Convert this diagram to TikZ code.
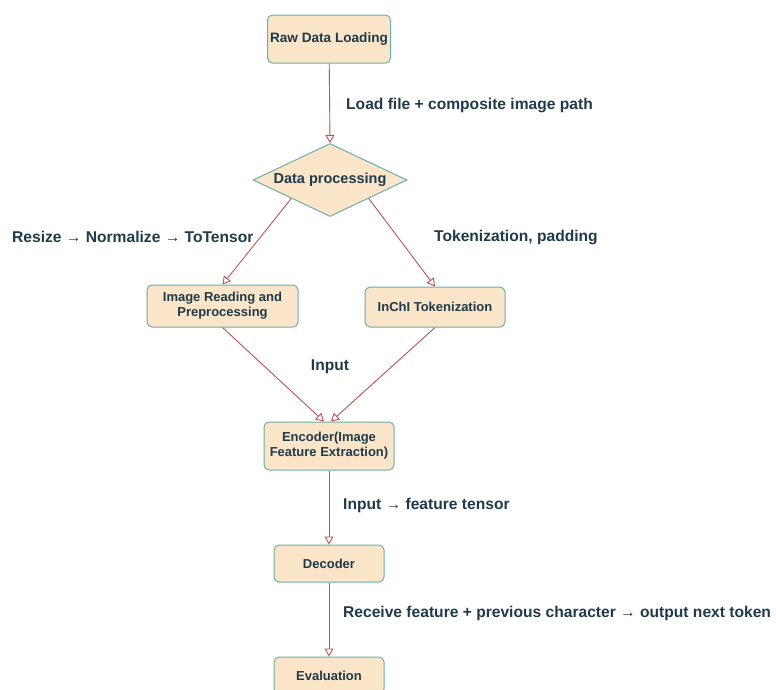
\documentclass[tikz,border=0pt]{standalone}
\usepackage{fontspec}
\setmainfont{Liberation Sans}
\usetikzlibrary{shapes.geometric,arrows.meta,calc}
\definecolor{boxfill}{HTML}{FAE5C8}
\definecolor{boxline}{HTML}{6AAFA8}
\definecolor{arr}{HTML}{B85450}
\definecolor{txt}{HTML}{1F3A4A}
\tikzset{
  box/.style={draw=boxline, fill=boxfill, line width=1pt, rounded corners=5pt, inner sep=0pt, align=center, text=txt, font=\bfseries\fontsize{13}{15}\selectfont},
  conn/.style={draw=arr, line width=0.9pt, -{Triangle[open,length=8pt,width=9pt]}},
  lbl/.style={text=txt, font=\bfseries\fontsize{15.6}{18}\selectfont, anchor=west, inner sep=0pt}
}
\begin{document}
\begin{tikzpicture}[x=1pt,y=1pt]
\useasboundingbox (0,0) rectangle (776,-689);
\node[box, minimum width=123pt, minimum height=48pt, font=\bfseries\fontsize{13.6}{16}\selectfont] (raw) at (329,-39) {Raw Data Loading};
\node[diamond, shape aspect=2.1, draw=boxline, fill=boxfill, line width=1pt, minimum width=154pt, minimum height=73pt, inner sep=0pt, text=txt, font=\bfseries\fontsize{14.5}{17}\selectfont] (dp) at (330,-180) {Data processing};
\node[box, minimum width=151pt, minimum height=42pt] (img) at (222.5,-306) {Image Reading and\\Preprocessing};
\node[box, minimum width=140pt, minimum height=40pt] (inchi) at (435,-307) {InChI Tokenization};
\node[box, minimum width=130pt, minimum height=48pt] (enc) at (329,-446) {Encoder(Image\\Feature Extraction)};
\node[box, minimum width=110pt, minimum height=37pt] (dec) at (329,-563.5) {Decoder};
\node[box, minimum width=110pt, minimum height=37pt] (ev) at (329,-675.5) {Evaluation};

\coordinate (dl) at ($(dp.west)!0.5!(dp.south)$);
\coordinate (dr) at ($(dp.east)!0.5!(dp.south)$);

\draw[conn] (raw) -- (dp.north);
\draw[conn] (dl) -- (img.north);
\draw[conn] (dr) -- (inchi.north);
\draw[conn] (img.south) -- ([xshift=-5pt]enc.north);
\draw[conn] (inchi.south) -- ([xshift=2pt]enc.north);
\draw[conn] (enc) -- (dec);
\draw[conn] (dec) -- (ev);

\node[lbl] (l1) at (346,-105) {Load file + composite image path};
\node[lbl] (l2) at (12,-237) {Resize → Normalize → ToTensor};
\node[lbl] (l3) at (434,-237) {Tokenization, padding};
\node[lbl, anchor=center] (l4) at (330,-367) {Input};
\node[lbl] (l5) at (343,-505) {Input → feature tensor};
\node[lbl] (l6) at (343,-613) {Receive feature + previous character → output next token};
\end{tikzpicture}
\end{document}
